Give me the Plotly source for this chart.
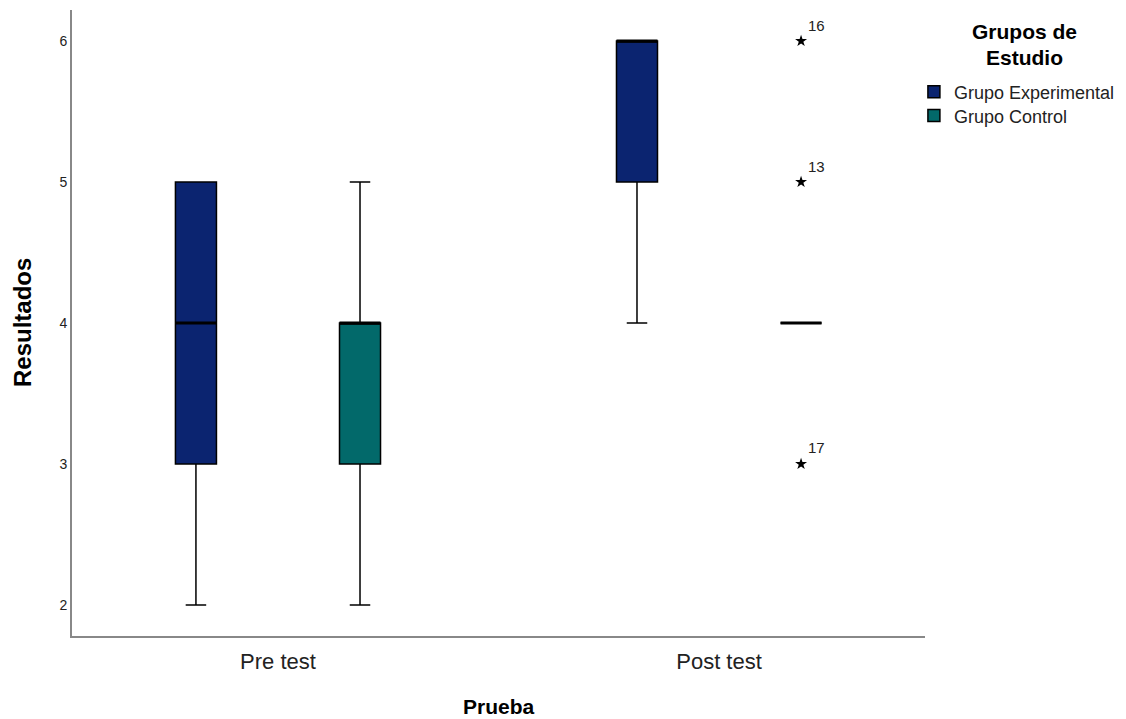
import plotly.graph_objects as go

# ---- data ----
categories = ["Pre test", "Post test"]
groups = ["Grupo Experimental", "Grupo Control"]
q1 = {"Grupo Experimental": [3, 5], "Grupo Control": [3, 4]}
median = {"Grupo Experimental": [4, 6], "Grupo Control": [4, 4]}
q3 = {"Grupo Experimental": [5, 6], "Grupo Control": [4, 4]}
lowerfence = {"Grupo Experimental": [2, 4], "Grupo Control": [2, 4]}
upperfence = {"Grupo Experimental": [5, 6], "Grupo Control": [5, 4]}
outlier_cat = ["Post test", "Post test", "Post test"]
outlier_group = ["Grupo Control", "Grupo Control", "Grupo Control"]
outlier_vals = [6, 5, 3]
outlier_ids = ["16", "13", "17"]
y_ticks = [2, 3, 4, 5, 6]

colors = {"Grupo Experimental": "#0b2470", "Grupo Control": "#02696a"}
offsets = {"Grupo Experimental": -0.186, "Grupo Control": 0.186}
legend_ids = {"Grupo Experimental": "legend", "Grupo Control": "legend2"}
box_w = 0.093
FONT = "Liberation Sans, Arial, sans-serif"

fig = go.Figure()
cat_pos = {c: i for i, c in enumerate(categories)}

for g in groups:
    xs = [cat_pos[c] + offsets[g] for c in categories]
    fig.add_trace(go.Box(
        name=g, x=xs, q1=q1[g], median=median[g], q3=q3[g],
        lowerfence=lowerfence[g], upperfence=upperfence[g],
        width=box_w, whiskerwidth=0.5, boxpoints=False,
        fillcolor=colors[g], line=dict(color="black", width=1.5),
        hoverinfo="skip", legend=legend_ids[g],
    ))
    # thick median lines
    mx, my = [], []
    for x, m in zip(xs, median[g]):
        mx += [x - box_w / 2, x + box_w / 2, None]
        my += [m, m, None]
    fig.add_trace(go.Scatter(x=mx, y=my, mode="lines",
                             line=dict(color="black", width=3),
                             showlegend=False, hoverinfo="skip"))

ox = [cat_pos[c] + offsets[g] for c, g in zip(outlier_cat, outlier_group)]
fig.add_trace(go.Scatter(x=ox, y=outlier_vals, mode="markers",
                         marker=dict(symbol="star", size=9, color="black"),
                         showlegend=False, hoverinfo="skip"))
for x, y, t in zip(ox, outlier_vals, outlier_ids):
    fig.add_annotation(x=x, y=y, text=t, showarrow=False, xshift=15, yshift=16,
                       font=dict(family=FONT, size=15, color="#222"))

# legend title as annotations (centered, two lines)
for txt, yp in [("<b>Grupos de</b>", 0.966), ("<b>Estudio</b>", 0.924)]:
    fig.add_annotation(xref="paper", yref="paper", x=1.117, y=yp,
                       xanchor="center", yanchor="middle", showarrow=False,
                       text=txt, font=dict(family=FONT, size=21, color="black"))
# axis titles as annotations
fig.add_annotation(xref="paper", yref="paper", x=0.5, y=0, yshift=-70,
                   xanchor="center", yanchor="middle", showarrow=False,
                   text="<b>Prueba</b>",
                   font=dict(family=FONT, size=21, color="black"))
fig.add_annotation(xref="paper", yref="paper", x=0, y=0.5, xshift=-50,
                   xanchor="center", yanchor="middle", showarrow=False,
                   text="<b>Resultados</b>", textangle=-90,
                   font=dict(family=FONT, size=24, color="black"))

leg_common = dict(x=0.987, xanchor="left", yanchor="middle",
                  font=dict(family=FONT, size=18, color="#222"),
                  itemwidth=30, bgcolor="rgba(0,0,0,0)")

fig.update_layout(
    width=1118, height=711,
    paper_bgcolor="white", plot_bgcolor="white",
    margin=dict(l=64, r=201, t=2, b=83, autoexpand=False),
    boxmode="overlay",
    font=dict(family=FONT, color="#222"),
    legend=dict(y=0.869, **leg_common),
    legend2=dict(y=0.831, **leg_common),
    xaxis=dict(
        range=[-0.467, 1.467], tickvals=[cat_pos[c] for c in categories],
        ticktext=categories, showgrid=False, zeroline=False,
        showline=True, linecolor="#888", linewidth=2, ticks="",
        ticklabelstandoff=5,
        tickfont=dict(family=FONT, size=22, color="#222"),
    ),
    yaxis=dict(
        range=[1.78, 6.22], tickvals=y_ticks, showgrid=False, zeroline=False,
        showline=True, linecolor="#888", linewidth=2, ticks="",
        tickfont=dict(family=FONT, size=14, color="#222"),
    ),
)

fig.write_html("out.html")
